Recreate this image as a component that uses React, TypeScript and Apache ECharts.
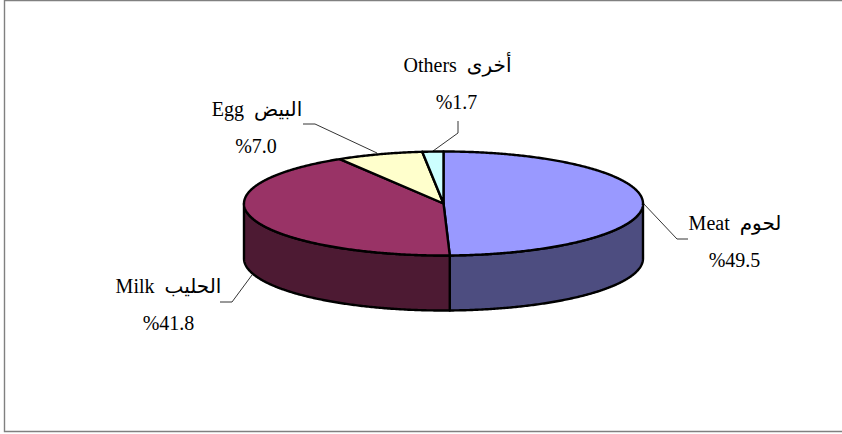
import React, { useEffect, useRef } from "react";
import * as echarts from "echarts";

const categories = ["Meat  لحوم", "Milk  الحليب", "Egg  البيض", "Others  أخرى"];
const shares = [49.5, 41.8, 7.0, 1.7];
const shareLabels = ["%49.5", "%41.8", "%7.0", "%1.7"];

const topColors = ["#9999FF", "#993366", "#FFFFCC", "#CCFFFF"];
const wallColors = ["#4D4D80", "#4D1A33", "#80806A", "#668080"];

const CX = 443.5, CY = 203.5, RX = 199.5, RY = 52, DEPTH = 55;
const FONT = '"Liberation Serif", "DejaVu Sans", serif';

// label placement: [name x, name y, share x, share y]
const labelPlaces = [
  [735, 223, 734.5, 260],
  [168.5, 286, 168.5, 323],
  [257, 109, 256, 146],
  [457.5, 65, 456.5, 102],
];
const leaders = [
  [[643, 203], [677, 239], [688, 239]],
  [[252, 275], [232, 302], [220, 302]],
  [[377, 153], [315, 124], [303, 124]],
  [[433, 151], [458, 133], [458, 121]],
];

function rimPoint(deg: number, drop = 0) {
  const a = (deg * Math.PI) / 180;
  return [CX + RX * Math.sin(a), CY - RY * Math.cos(a) + drop];
}
function arc(from: number, to: number, drop = 0) {
  const pts: number[][] = [];
  const steps = Math.max(2, Math.ceil((to - from) * 2));
  for (let i = 0; i <= steps; i++) pts.push(rimPoint(from + ((to - from) * i) / steps, drop));
  return pts;
}

export default function App() {
  const ref = useRef<HTMLDivElement>(null);
  useEffect(() => {
    const chart = echarts.init(ref.current!, null, { renderer: "svg" });
    chart.setOption({
      animation: false,
      backgroundColor: "#FFFFFF",
      graphic: [
        {
          type: "polyline",
          silent: true,
          shape: { points: [[842, 0.5], [4.5, 0.5], [4.5, 431.5], [842, 431.5]] },
          style: { stroke: "#808080", lineWidth: 1.4, fill: "none" },
        },
      ],
      series: [
        {
          type: "custom",
          coordinateSystem: "none",
          data: shares.map((v, i) => ({ value: [v], name: categories[i] })),
          renderItem(params: any, api: any) {
            const i = params.dataIndex;
            const before = shares.slice(0, i).reduce((s, v) => s + v, 0);
            const total = shares.reduce((s, v) => s + v, 0);
            const start = (before / total) * 360;
            const end = start + (api.value(0) / total) * 360;
            const children: any[] = [];
            const wFrom = Math.max(start, 90);
            const wTo = Math.min(end, 270);
            if (wTo > wFrom) {
              children.push({
                type: "polygon",
                shape: { points: [...arc(wFrom, wTo), ...arc(wFrom, wTo, DEPTH).reverse()] },
                style: { fill: wallColors[i], stroke: "#000", lineWidth: 2.4, lineJoin: "round" },
              });
            }
            children.push({
              type: "polygon",
              shape: { points: [[CX, CY], ...arc(start, end)] },
              style: { fill: topColors[i], stroke: "#000", lineWidth: 2.4, lineJoin: "round" },
            });
            children.push({
              type: "polyline",
              shape: { points: leaders[i] },
              style: { stroke: "#000", lineWidth: 0.8, fill: "none" },
            });
            const p = labelPlaces[i];
            children.push({
              type: "text",
              style: {
                text: categories[i], x: p[0], y: p[1], fill: "#000",
                font: `20px ${FONT}`, align: "center", verticalAlign: "middle",
              },
            });
            children.push({
              type: "text",
              style: {
                text: shareLabels[i], x: p[2], y: p[3], fill: "#000",
                font: `20px ${FONT}`, align: "center", verticalAlign: "middle",
              },
            });
            return { type: "group", children };
          },
        },
      ],
    });
    return () => chart.dispose();
  }, []);
  return <div ref={ref} style={{ position: "absolute", left: 0, top: 0, width: 842, height: 434 }} />;
}
